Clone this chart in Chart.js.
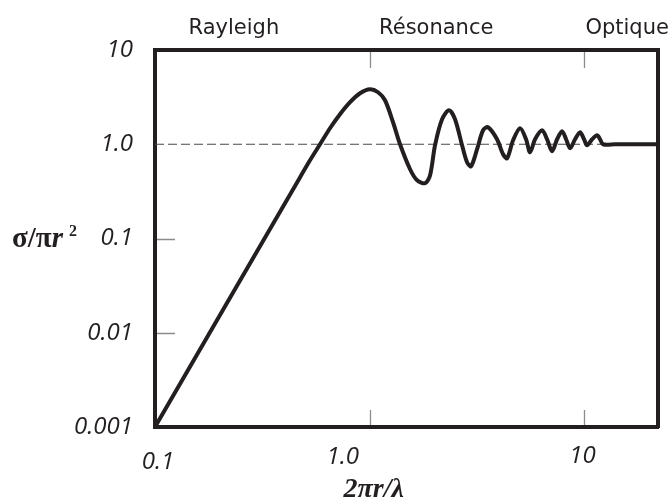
<!DOCTYPE html>
<html>
<head>
<meta charset="utf-8">
<script src="https://cdn.jsdelivr.net/npm/chart.js@4.4.0/dist/chart.umd.min.js"></script>
<style>
  html, body { margin: 0; padding: 0; background: #fff; }
  #wrap { width: 672px; height: 499px; position: relative; }
</style>
</head>
<body>
<div id="wrap"><canvas id="mie"></canvas></div>
<script>
// size parameter 2πr/λ and efficiency σ/πr²
const sizeParam = [0.1, 0.474, 0.527, 0.587, 0.653, 0.727, 0.81, 0.901, 1.003, 1.093, 1.178, 1.284, 1.384,
  1.541, 1.661, 1.81, 1.91, 2.014, 2.172, 2.341, 2.496, 2.691, 2.839, 2.964, 3.161, 3.371, 3.556, 3.916,
  4.178, 4.361, 4.651, 5.013, 5.346, 5.58, 5.888, 6.346, 6.696, 7.065, 7.455, 7.866, 8.211, 8.568, 9.041,
  9.539, 9.957, 10.28, 10.85, 11.45, 11.82, 12.21, 13.88, 22];
const crossSection = [0.001, 0.447, 0.676, 1.0, 1.478, 2.081, 2.792, 3.476, 3.834, 3.562, 2.93, 1.712, 1.0,
  0.543, 0.415, 0.386, 0.469, 0.976, 1.842, 2.295, 1.842, 0.976, 0.644, 0.584, 0.885, 1.408, 1.515, 1.13,
  0.783, 0.71, 1.103, 1.478, 1.13, 0.822, 1.13, 1.408, 1.13, 0.843, 1.13, 1.374, 1.13, 0.907, 1.13,
  1.341, 1.13, 0.976, 1.13, 1.246, 1.13, 1.0, 1.0, 1.0];

// dashed reference at σ/πr² = 1
const unityX = [0.1, 12.2];
const unityY = [1, 1];

const xTicks = [0.1, 1, 10];
const xTickLabels = ['0.1', '1.0', '10'];
const yTicks = [0.001, 0.01, 0.1, 1, 10];
const yTickLabels = ['0.001', '0.01', '0.1', '1.0', '10'];

const regionLabels = ['Rayleigh', 'Résonance', 'Optique'];
const regionAt = [0.233, 2.04, 15.8];

// styling
const INK = '#231f20';
const TICK_GREY = '#8c8c8c';
const tickFont = { family: '"Open Sans", sans-serif', size: 24, style: 'italic' };
const xLabelShift = [[3, 35], [-27, 30], [-2, 29]];

const fixSize = (w, h) => (s) => {
  if (w != null) s.width = w;
  if (h != null) s.height = h;
  s.paddingLeft = s.paddingRight = s.paddingTop = s.paddingBottom = 0;
};

const decorations = {
  id: 'decorations',
  afterDraw(chart) {
    const { ctx, chartArea: a, scales } = chart;
    ctx.save();

    // small inner tick marks
    ctx.strokeStyle = TICK_GREY;
    ctx.lineWidth = 1.3;
    ctx.beginPath();
    xTicks.filter(v => v > 0.1).forEach(v => {
      const px = Math.round(scales.x.getPixelForValue(v)) + 0.5;
      ctx.moveTo(px, a.top + 2); ctx.lineTo(px, a.top + 18);
      ctx.moveTo(px, a.bottom - 2); ctx.lineTo(px, a.bottom - 17);
    });
    yTicks.filter(v => v > 0.001 && v < 1).forEach(v => {
      const py = Math.round(scales.y.getPixelForValue(v)) + 0.5;
      ctx.moveTo(a.left + 2, py); ctx.lineTo(a.left + 20, py);
    });
    ctx.stroke();

    // x tick labels
    ctx.fillStyle = INK;
    ctx.font = 'italic 24px "Open Sans", sans-serif';
    ctx.textAlign = 'center';
    ctx.textBaseline = 'middle';
    xTicks.forEach((v, i) => {
      const px = scales.x.getPixelForValue(v) + xLabelShift[i][0];
      ctx.fillText(xTickLabels[i], px, a.bottom + xLabelShift[i][1]);
    });

    // y title  σ/πr²
    ctx.textAlign = 'left';
    ctx.textBaseline = 'alphabetic';
    const ty = scales.y.getPixelForValue(0.1) + 8;
    let tx = 12;
    ctx.font = 'bold 29px "Liberation Serif", serif';
    ctx.fillText('σ/π', tx, ty);
    tx += ctx.measureText('σ/π').width;
    ctx.font = 'italic bold 29px "Liberation Serif", serif';
    ctx.fillText('r', tx, ty);
    tx += ctx.measureText('r').width + 6;
    ctx.font = 'bold 16px "Liberation Serif", serif';
    ctx.fillText('2', tx, ty - 11);

    // x title  2πr/λ
    ctx.textAlign = 'center';
    ctx.font = 'italic bold 28px "Liberation Serif", serif';
    ctx.fillText('2πr/λ', scales.x.getPixelForValue(1) + 4, a.bottom + 70);

    ctx.restore();
  }
};

new Chart(document.getElementById('mie'), {
  type: 'line',
  data: {
    datasets: [
      {
        data: sizeParam.map((x, i) => ({ x, y: crossSection[i] })),
        borderColor: INK,
        borderWidth: 4,
        pointRadius: 0,
        tension: 0.3,
        clip: false
      },
      {
        data: unityX.map((x, i) => ({ x, y: unityY[i] })),
        borderColor: '#4a4a4a',
        borderWidth: 1.1,
        borderDash: [9, 4],
        pointRadius: 0
      }
    ]
  },
  options: {
    responsive: true,
    maintainAspectRatio: false,
    animation: false,
    layout: { padding: 0, autoPadding: false },
    plugins: { legend: { display: false }, tooltip: { enabled: false } },
    scales: {
      x: {
        type: 'logarithmic', position: 'bottom', min: 0.1, max: 22,
        grid: { display: false },
        border: { display: true, color: INK, width: 4 },
        ticks: { display: false },
        afterBuildTicks: s => { s.ticks = xTicks.map(v => ({ value: v })); },
        afterFit: fixSize(null, 72)
      },
      xTop: {
        type: 'logarithmic', position: 'top', min: 0.1, max: 22,
        grid: { display: false },
        border: { display: true, color: INK, width: 4 },
        ticks: {
          color: INK, padding: 1, autoSkip: false, maxRotation: 0,
          font: { family: '"DejaVu Sans", sans-serif', size: 21 },
          callback: (v, i) => regionLabels[i]
        },
        afterBuildTicks: s => { s.ticks = regionAt.map(v => ({ value: v })); },
        afterFit: fixSize(null, 50)
      },
      y: {
        type: 'logarithmic', position: 'left', min: 0.001, max: 10,
        grid: { display: false },
        border: { display: true, color: INK, width: 4 },
        ticks: {
          color: INK, padding: 14, autoSkip: false, font: tickFont,
          callback: (v, i) => yTickLabels[i]
        },
        afterBuildTicks: s => { s.ticks = yTicks.map(v => ({ value: v })); },
        afterFit: fixSize(155, null)
      },
      yRight: {
        type: 'logarithmic', position: 'right', min: 0.001, max: 10,
        grid: { display: false },
        border: { display: true, color: INK, width: 4 },
        ticks: { display: false },
        afterFit: fixSize(14, null)
      }
    }
  },
  plugins: [decorations]
});
</script>
</body>
</html>
